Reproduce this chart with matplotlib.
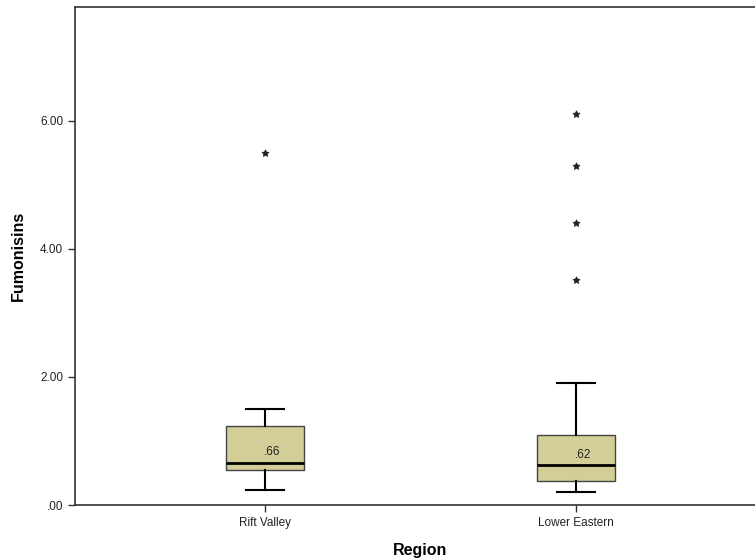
import matplotlib
matplotlib.use("Agg")
import matplotlib.pyplot as plt

plt.rcParams['font.family'] = ['Liberation Sans', 'DejaVu Sans']

categories = ["Rift Valley", "Lower Eastern"]
q1 = [0.55, 0.375]
median = [0.66, 0.62]
q3 = [1.23, 1.09]
whisker_low = [0.23, 0.20]
whisker_high = [1.50, 1.90]
outliers = [[5.50], [6.11, 5.30, 4.41, 3.52]]
median_labels = [".66", ".62"]
yticks = [0, 2, 4, 6]
ytick_labels = [".00", "2.00", "4.00", "6.00"]

fig = plt.figure(figsize=(7.55, 5.59), dpi=100)
ax = fig.add_axes([75/755, 54/559, (766-75)/755, (505-7)/559])

stats = []
for i in range(len(categories)):
    stats.append(dict(med=median[i], q1=q1[i], q3=q3[i],
                      whislo=whisker_low[i], whishi=whisker_high[i],
                      fliers=outliers[i], label=categories[i]))

positions = [1, 2]
ax.bxp(stats, positions=positions, widths=0.25, patch_artist=True,
       boxprops=dict(facecolor="#d3ce98", edgecolor="#444444", linewidth=1.0),
       medianprops=dict(color="black", linewidth=2.0),
       whiskerprops=dict(color="black", linewidth=1.5),
       capprops=dict(color="black", linewidth=1.5),
       capwidths=0.125,
       flierprops=dict(marker=(5, 1, 0), markersize=5.5, markerfacecolor="#222222",
                       markeredgecolor="#222222", markeredgewidth=0.4, linestyle="none"))

for p, m, lab in zip(positions, median, median_labels):
    ax.text(p + 0.022, m + 0.07, lab, ha="center", va="bottom", fontsize=8.5, color="#222222")

ax.set_xlim(0.389, 2.611)
ax.set_ylim(0, 7.78)
ax.set_xticks(positions)
ax.set_xticklabels(categories, fontsize=8.5)
ax.set_yticks(yticks)
ax.set_yticklabels(ytick_labels, fontsize=8.5)
ax.tick_params(axis="both", direction="out", length=5, width=1, colors="#333333", labelcolor="#222222")
for s in ax.spines.values():
    s.set_color("#333333")
    s.set_linewidth(1.2)

ax.set_xlabel("Region", fontsize=11.5, fontweight="bold", labelpad=10)
ax.set_ylabel("Fumonisins", fontsize=11.5, fontweight="bold", labelpad=10)

fig.savefig("out.png", dpi=100)
